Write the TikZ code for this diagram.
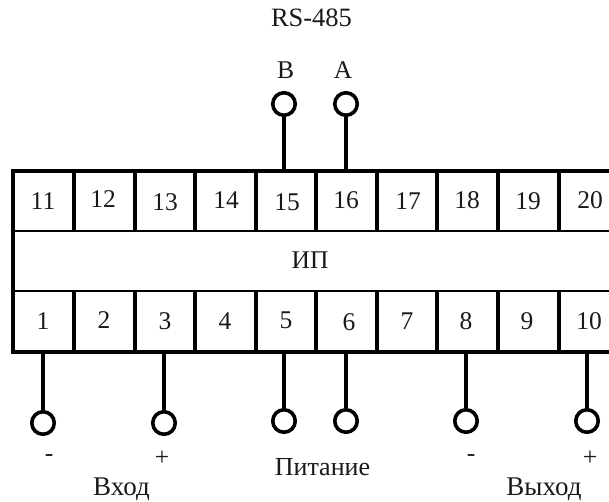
\documentclass[tikz,border=0pt]{standalone}
\usepackage{fontspec}
\setmainfont{Liberation Serif}
\usetikzlibrary{shapes.geometric}
\tikzset{
  x=1pt,y=-1pt,
  txt/.style={inner sep=0pt,font=\fontsize{25.5}{28}\selectfont,text=black!90},
  big/.style={txt,anchor=base,font=\fontsize{27}{29}\selectfont},
  heavy/.style={line width=3.8pt,black},
  rowline/.style={line width=2pt,black},
  cellline/.style={line width=3.2pt,black},
  wire/.style={line width=3.4pt,black},
  term/.style={draw=black,line width=3.6pt,fill=white,circle,inner sep=0pt,minimum size=22.5pt},
}
\begin{document}
\begin{tikzpicture}
\useasboundingbox (0,0) rectangle (609,502);
\clip (0,0) rectangle (609,502);
% frame
\coordinate (tl) at (13,171);
\coordinate (bl) at (13,352);
\coordinate (tr) at (612,171);
\coordinate (br) at (612,352);
\draw[heavy] (tr) -- (tl) -- (bl) -- (br);
\coordinate (r1l) at (13,231); \coordinate (r1r) at (612,231);
\coordinate (r2l) at (13,291); \coordinate (r2r) at (612,291);
\draw[rowline] (r1l) -- (r1r);
\draw[rowline] (r2l) -- (r2r);
\foreach \x in {74,135,195,256,316,377,437,498,559}{
  \draw[cellline] (\x,171) -- (\x,231);
  \draw[cellline] (\x,291) -- (\x,352);
}
% cell numbers
\node[txt] (n11) at (43,201) {11};
\node[txt] (n12) at (103,199) {12};
\node[txt] (n13) at (165,202) {13};
\node[txt] (n14) at (226,200) {14};
\node[txt] (n15) at (287,202) {15};
\node[txt] (n16) at (346,200) {16};
\node[txt] (n17) at (408,201) {17};
\node[txt] (n18) at (467,200) {18};
\node[txt] (n19) at (528,201) {19};
\node[txt] (n20) at (590,200) {20};
\node[txt] (ip) at (310,260) {ИП};
\node[txt] (n1) at (43,321) {1};
\node[txt] (n2) at (104,320) {2};
\node[txt] (n3) at (165,321) {3};
\node[txt] (n4) at (225,321) {4};
\node[txt] (n5) at (286,320) {5};
\node[txt] (n6) at (349,322) {6};
\node[txt] (n7) at (407,321) {7};
\node[txt] (n8) at (466,321) {8};
\node[txt] (n9) at (527,321) {9};
\node[txt] (n10) at (589,321) {10};
% terminals
\node[term] (tB) at (284,104) {};
\node[term] (tA) at (346,104) {};
\node[term] (t1) at (43,423) {};
\node[term] (t3) at (164,423) {};
\node[term] (t5) at (284,421) {};
\node[term] (t6) at (346,421) {};
\node[term] (t8) at (466,421) {};
\node[term] (t10) at (587,421) {};
\draw[wire] (tB) -- (284,171);
\draw[wire] (tA) -- (346,171);
\draw[wire] (43,352) -- (t1);
\draw[wire] (164,352) -- (t3);
\draw[wire] (284,352) -- (t5);
\draw[wire] (346,352) -- (t6);
\draw[wire] (466,352) -- (t8);
\draw[wire] (587,352) -- (t10);
% labels
\node[txt,font=\fontsize{26.5}{28}\selectfont] (rs) at (311.5,18) {RS-485};
\node[txt] (lb) at (285.5,70.5) {B};
\node[txt] (la) at (343,70.5) {A};
\node[txt] (m1) at (49,458) {-};
\node[txt] (p1) at (162,458) {+};
\node[big] (vh) at (121.5,495.5) {Вход};
\node[big,font=\fontsize{26}{28}\selectfont] (pit) at (322.5,475) {Питание};
\node[txt] (m2) at (471,458) {-};
\node[txt] (p2) at (590,458) {+};
\node[big] (vyh) at (544,495.5) {Выход};
\end{tikzpicture}
\end{document}
